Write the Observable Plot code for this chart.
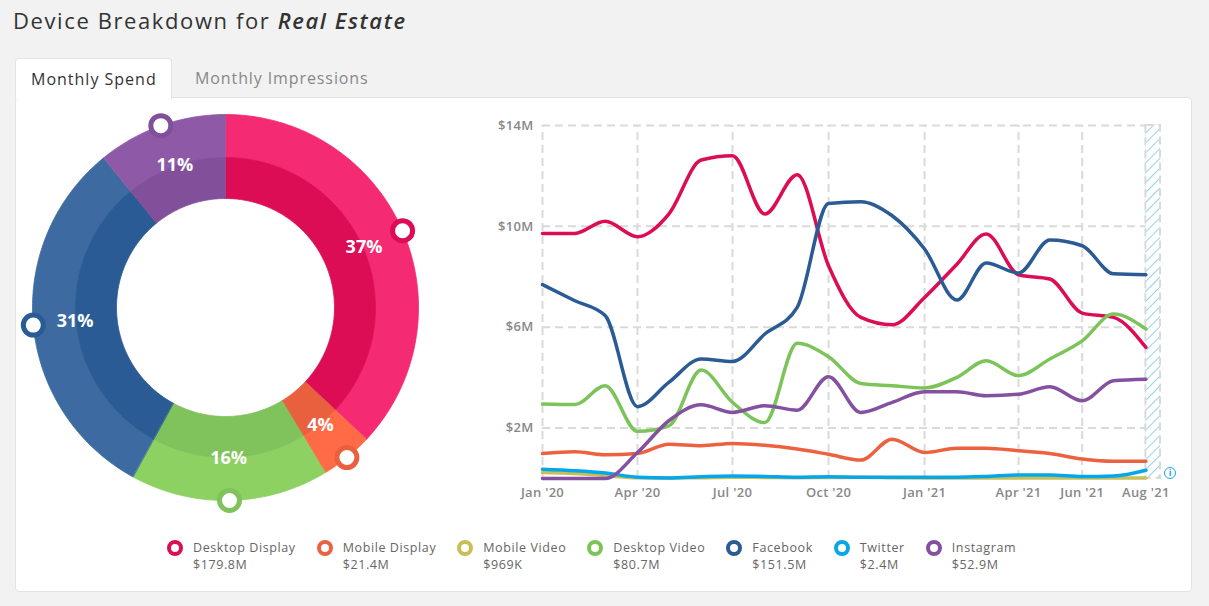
<!DOCTYPE html>
<html>
<head>
<meta charset="utf-8">
<script src="https://cdn.jsdelivr.net/npm/d3@7"></script>
<script src="https://cdn.jsdelivr.net/npm/@observablehq/plot@0.6"></script>
<style>
  html, body { margin: 0; padding: 0; }
  body { background: #f2f2f2; width: 1209px; height: 606px; position: relative; overflow: hidden;
         font-family: "Open Sans", "Noto Sans", sans-serif; }
  #title { position: absolute; left: 13px; top: 5px; font-size: 22px; letter-spacing: 1.6px; line-height: 30px; color: #333; white-space: nowrap; }
  #title em { font-style: italic; font-weight: 600; }
  #card { position: absolute; left: 15px; top: 97px; width: 1175px; height: 493px; background: #fff;
          border: 1px solid #e3e3e3; border-radius: 4px; }
  .tab { position: absolute; top: 58px; height: 40px; line-height: 40px; font-size: 16px; white-space: nowrap; }
  #tab1 { left: 15px; width: 140px; padding-left: 15px; background: #fff; border: 1px solid #e3e3e3; border-bottom: none;
          border-radius: 4px 4px 0 0; color: #333; z-index: 2; height: 40px; letter-spacing: 1px; }
  #tab2 { left: 195px; color: #888; letter-spacing: 0.9px; }
  #donut { position: absolute; left: 10px; top: 100px; }
  #lines { position: absolute; left: 480px; top: 105px; }
  #info { position: absolute; left: 1164px; top: 467px; width: 10px; height: 10px; border: 1.5px solid #17a9e6;
          border-radius: 50%; color: #17a9e6; font-size: 9px; line-height: 10px; text-align: center; font-weight: 700; }
  #legend { position: absolute; left: 167px; top: 539px; display: flex; gap: 21px; align-items: center; }
  .item { display: flex; align-items: center; gap: 10px; }
  .mk { width: 8px; height: 8px; border: 4px solid; border-radius: 50%; background: #fff; margin-top: -16px; }
  .txt { font-size: 12.5px; letter-spacing: 0.6px; line-height: 17px; color: #666; white-space: nowrap; }
  svg { overflow: visible; }
</style>
</head>
<body>
<div id="title">Device Breakdown for <em>Real Estate</em></div>
<div id="card"></div>
<div class="tab" id="tab1">Monthly Spend</div>
<div class="tab" id="tab2">Monthly Impressions</div>
<div id="donut"></div>
<div id="lines"></div>
<div id="info">i</div>
<div id="legend"></div>
<script>
// ---------- data ----------
const seriesNames = ["Desktop Display", "Mobile Display", "Mobile Video", "Desktop Video", "Facebook", "Twitter", "Instagram"];
const totals = [179.8, 21.4, 0.969, 80.7, 151.5, 2.4, 52.9];           // $M
const totalLabels = ["$179.8M", "$21.4M", "$969K", "$80.7M", "$151.5M", "$2.4M", "$52.9M"];

const months = ["2020-01","2020-02","2020-03","2020-04","2020-05","2020-06","2020-07","2020-08","2020-09","2020-10",
                "2020-11","2020-12","2021-01","2021-02","2021-03","2021-04","2021-05","2021-06","2021-07","2021-08"];

const desktopDisplay = [9.72, 9.72, 10.2, 9.59, 10.49, 12.63, 12.8, 10.49, 12.05, 8.44, 6.39, 6.1, 7.18, 8.5, 9.7, 8.08, 7.91, 6.56, 6.39, 5.2];
const mobileDisplay  = [0.99, 1.06, 0.94, 0.99, 1.36, 1.3, 1.39, 1.32, 1.17, 0.96, 0.73, 1.56, 1.03, 1.2, 1.2, 1.1, 0.99, 0.77, 0.68, 0.68];
const mobileVideo    = [0.24, 0.2, 0.12, 0.03, 0.02, 0.03, 0.05, 0.04, 0.03, 0.04, 0.05, 0.03, 0.02, 0.02, 0.02, 0.02, 0.02, 0.02, 0.02, 0.02];
const desktopVideo   = [2.95, 2.93, 3.68, 1.87, 2.09, 4.3, 3.02, 2.22, 5.36, 4.83, 3.77, 3.68, 3.59, 4.01, 4.67, 4.08, 4.74, 5.46, 6.52, 5.93];
const facebook       = [7.69, 7.05, 6.46, 2.85, 3.81, 4.74, 4.64, 5.73, 6.79, 10.91, 10.98, 10.42, 9.1, 7.08, 8.55, 8.15, 9.46, 9.23, 8.12, 8.08];
const twitter        = [0.37, 0.31, 0.22, 0.05, 0.02, 0.07, 0.1, 0.08, 0.05, 0.07, 0.05, 0.05, 0.05, 0.05, 0.08, 0.14, 0.14, 0.08, 0.1, 0.33];
const instagram      = [0, 0, 0, 1.03, 2.29, 2.92, 2.62, 2.89, 2.71, 4.04, 2.62, 3.02, 3.44, 3.44, 3.28, 3.34, 3.64, 3.08, 3.88, 3.94];

const yTicks = [2, 6, 10, 14];
const xTicks = ["2020-01", "2020-04", "2020-07", "2020-10", "2021-01", "2021-04", "2021-06", "2021-08"];
const partialStart = "2021-08-01";
const partialEnd = "2021-08-15";

// ---------- styles ----------
const lineColors  = ["#dc0d55", "#ec6140", "#c9bf57", "#7cc45a", "#2b5b94", "#05a7ea", "#83519f"];
const outerColors = ["#f42a72", "#ff6b47", "#d4cb66", "#8dd163", "#3d6ba1", "#1cb6f2", "#8e5aa8"];
const innerColors = ["#dc0d55", "#e8603e", "#c9bf57", "#80c25b", "#2a5b94", "#05a7ea", "#824f9a"];
const font = '"Open Sans", "Noto Sans", sans-serif';

// ---------- line chart ----------
const seriesValues = [desktopDisplay, mobileDisplay, mobileVideo, desktopVideo, facebook, twitter, instagram];
const parseMonth = d3.utcParse("%Y-%m");
const rows = seriesNames.flatMap((name, i) =>
  months.map((m, j) => ({series: name, idx: i, date: parseMonth(m), value: seriesValues[i][j]})));
const xTickDates = xTicks.map(parseMonth);
const band = [{x1: new Date(partialStart), x2: new Date(partialEnd)}];
const fmtMonth = d3.utcFormat("%b '%y");

const gridStyle = {stroke: "#dadada", strokeWidth: 2, strokeDasharray: "8,5"};

const lineChart = Plot.plot({
  width: 700, height: 400,
  marginLeft: 62, marginRight: 20, marginTop: 20, marginBottom: 27,
  style: {fontFamily: font, fontSize: "13px", color: "#888", fontWeight: 600, background: "transparent", overflow: "visible", letterSpacing: "0.3px"},
  x: {type: "utc", domain: [new Date("2020-01-01"), new Date(partialEnd)], ticks: xTickDates,
      tickFormat: fmtMonth, tickSize: 0, tickPadding: 9, label: null},
  y: {domain: [0, 14], ticks: yTicks, tickFormat: d => `$${d}M`, tickSize: 0, tickPadding: 9, label: null},
  marks: [
    Plot.ruleY(yTicks, gridStyle),
    Plot.ruleX(xTickDates, {y1: 0, y2: 14, ...gridStyle}),
    Plot.rect(band, {x1: "x1", x2: "x2", y1: 0, y2: 14, fill: "white"}),
    Plot.rect(band, {x1: "x1", x2: "x2", y1: 0, y2: 14, fill: "url(#hatch)", ...gridStyle}),
    ...seriesNames.map((name, i) =>
      Plot.line(rows.filter(r => r.idx === i), {x: "date", y: "value", stroke: lineColors[i], strokeWidth: 3.5,
        curve: "monotone-x", strokeLinejoin: "round", strokeLinecap: "round"}))
  ]
});
const defs = d3.select(lineChart).insert("defs", ":first-child");
const pat = defs.append("pattern").attr("id", "hatch").attr("patternUnits", "userSpaceOnUse")
  .attr("width", 7).attr("height", 7).attr("patternTransform", "rotate(45)");
pat.append("line").attr("x1", 0).attr("y1", 0).attr("x2", 0).attr("y2", 7)
  .attr("stroke", "#7ccbee").attr("stroke-width", 1.7);
document.getElementById("lines").appendChild(lineChart);

// ---------- donut ----------
const grand = d3.sum(totals);
const shown = totals.map((v, i) => ({i, v})).filter(d => d.v / grand >= 0.01);
const shownSum = d3.sum(shown, d => d.v);
let acc = 0;
const slices = shown.map(d => {
  const a0 = acc / shownSum * 2 * Math.PI;
  acc += d.v;
  const a1 = acc / shownSum * 2 * Math.PI;
  return {...d, a0, a1, mid: (a0 + a1) / 2, pct: Math.round(d.v / grand * 100) + "%"};
});
const R_IN = 109, R_MID = 150, R_OUT = 193;
const polar = (r, a) => ({x: r * Math.sin(a), y: r * Math.cos(a)});
function ring(s, r0, r1) {
  const n = Math.max(2, Math.ceil((s.a1 - s.a0) / (Math.PI / 180)));
  const pts = [];
  for (let k = 0; k <= n; k++) pts.push(polar(r1, s.a0 + (s.a1 - s.a0) * k / n));
  for (let k = n; k >= 0; k--) pts.push(polar(r0, s.a0 + (s.a1 - s.a0) * k / n));
  return pts;
}
const donutMarks = [];
slices.forEach(s => {
  donutMarks.push(Plot.line(ring(s, R_MID, R_OUT), {x: "x", y: "y", fill: outerColors[s.i], stroke: outerColors[s.i], strokeWidth: 0.8, curve: "linear-closed"}));
  donutMarks.push(Plot.line(ring(s, R_IN, R_MID), {x: "x", y: "y", fill: innerColors[s.i], stroke: innerColors[s.i], strokeWidth: 0.8, curve: "linear-closed"}));
});
const markerPts = slices.map(s => ({...polar(R_OUT, s.mid), c: innerColors[s.i]}));
const labelPts = slices.map(s => ({...polar(R_MID + 1, s.mid), t: s.pct}));
const donut = Plot.plot({
  width: 430, height: 420, margin: 0,
  style: {background: "transparent", overflow: "visible"},
  x: {domain: [-215, 215], axis: null},
  y: {domain: [-213, 207], axis: null},
  marks: [
    ...donutMarks,
    Plot.text(labelPts, {x: "x", y: "y", text: "t", fill: "white", fontSize: 18, fontWeight: 700, fontFamily: font}),
    ...markerPts.map(p => Plot.dot([p], {x: "x", y: "y", r: 10, fill: "white", stroke: p.c, strokeWidth: 5}))
  ]
});
document.getElementById("donut").appendChild(donut);

// ---------- legend ----------
const legend = d3.select("#legend");
seriesNames.forEach((name, i) => {
  const it = legend.append("div").attr("class", "item");
  it.append("div").attr("class", "mk").style("border-color", lineColors[i]);
  const t = it.append("div").attr("class", "txt");
  t.append("div").text(name);
  t.append("div").text(totalLabels[i]);
});
</script>
</body>
</html>
